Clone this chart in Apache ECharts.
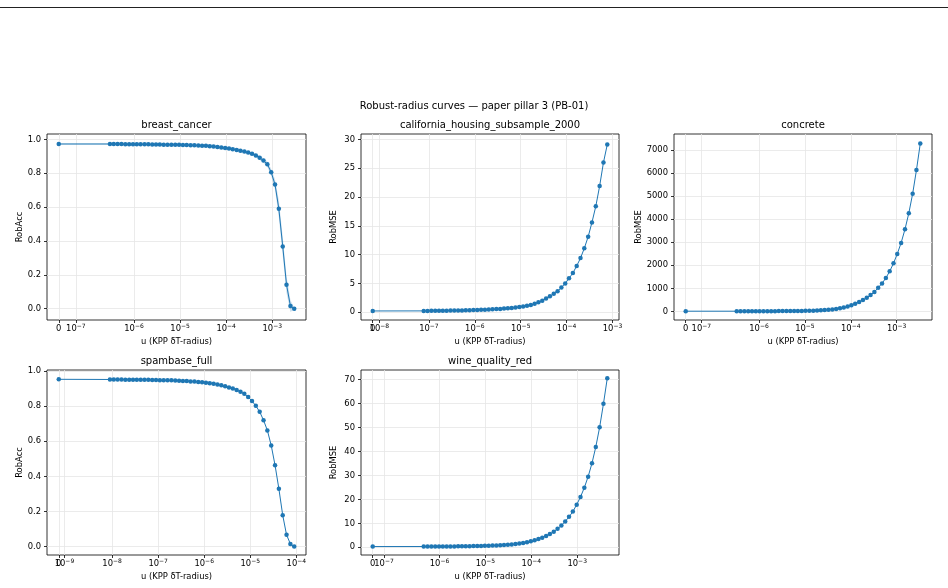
<!DOCTYPE html>
<html>
<head>
<meta charset="utf-8">
<script src="https://cdn.jsdelivr.net/npm/echarts@6/dist/echarts.min.js"></script>
<style>
  html, body { margin: 0; padding: 0; background: #fff; }
  #chart { width: 948px; height: 588px; }
</style>
</head>
<body>
<div id="chart"></div>
<script>
// datasets, one panel each
var names = ['breast_cancer', 'california_housing_subsample_2000', 'concrete', 'spambase_full', 'wine_quality_red'];
var metrics = ['RobAcc', 'RobMSE', 'RobMSE', 'RobAcc', 'RobMSE'];

// u grids (first value is u = 0)
var uBreast = [0,
  3.00e-7, 3.63e-7, 4.40e-7, 5.33e-7, 6.46e-7, 7.83e-7, 9.49e-7, 1.15e-6, 1.39e-6, 1.69e-6, 2.04e-6, 2.48e-6,
  3.00e-6, 3.63e-6, 4.40e-6, 5.33e-6, 6.46e-6, 7.83e-6, 9.49e-6, 1.15e-5, 1.39e-5, 1.69e-5, 2.04e-5, 2.48e-5,
  3.00e-5, 3.63e-5, 4.40e-5, 5.33e-5, 6.46e-5, 7.83e-5, 9.49e-5, 1.15e-4, 1.39e-4, 1.69e-4, 2.04e-4, 2.48e-4,
  3.00e-4, 3.63e-4, 4.40e-4, 5.33e-4, 6.46e-4, 7.83e-4, 9.49e-4, 1.15e-3, 1.39e-3, 1.69e-3, 2.04e-3, 2.48e-3,
  3.00e-3];
var uCalifornia = [0,
  7.70e-8, 9.33e-8, 1.13e-7, 1.37e-7, 1.66e-7, 2.01e-7, 2.43e-7, 2.95e-7, 3.57e-7, 4.33e-7, 5.25e-7, 6.36e-7,
  7.70e-7, 9.33e-7, 1.13e-6, 1.37e-6, 1.66e-6, 2.01e-6, 2.43e-6, 2.95e-6, 3.57e-6, 4.33e-6, 5.25e-6, 6.36e-6,
  7.70e-6, 9.33e-6, 1.13e-5, 1.37e-5, 1.66e-5, 2.01e-5, 2.43e-5, 2.95e-5, 3.57e-5, 4.33e-5, 5.25e-5, 6.36e-5,
  7.70e-5, 9.33e-5, 1.13e-4, 1.37e-4, 1.66e-4, 2.01e-4, 2.43e-4, 2.95e-4, 3.57e-4, 4.33e-4, 5.25e-4, 6.36e-4,
  7.70e-4];
var uConcrete = [0,
  3.27e-7, 3.96e-7, 4.80e-7, 5.82e-7, 7.04e-7, 8.54e-7, 1.03e-6, 1.25e-6, 1.52e-6, 1.84e-6, 2.23e-6, 2.70e-6,
  3.27e-6, 3.96e-6, 4.80e-6, 5.82e-6, 7.04e-6, 8.54e-6, 1.03e-5, 1.25e-5, 1.52e-5, 1.84e-5, 2.23e-5, 2.70e-5,
  3.27e-5, 3.96e-5, 4.80e-5, 5.82e-5, 7.04e-5, 8.54e-5, 1.03e-4, 1.25e-4, 1.52e-4, 1.84e-4, 2.23e-4, 2.70e-4,
  3.27e-4, 3.96e-4, 4.80e-4, 5.82e-4, 7.04e-4, 8.54e-4, 1.03e-3, 1.25e-3, 1.52e-3, 1.84e-3, 2.23e-3, 2.70e-3,
  3.27e-3];
var uSpambase = [0,
  9.00e-9, 1.09e-8, 1.32e-8, 1.60e-8, 1.94e-8, 2.35e-8, 2.85e-8, 3.45e-8, 4.18e-8, 5.06e-8, 6.13e-8, 7.43e-8,
  9.00e-8, 1.09e-7, 1.32e-7, 1.60e-7, 1.94e-7, 2.35e-7, 2.85e-7, 3.45e-7, 4.18e-7, 5.06e-7, 6.13e-7, 7.43e-7,
  9.00e-7, 1.09e-6, 1.32e-6, 1.60e-6, 1.94e-6, 2.35e-6, 2.85e-6, 3.45e-6, 4.18e-6, 5.06e-6, 6.13e-6, 7.43e-6,
  9.00e-6, 1.09e-5, 1.32e-5, 1.60e-5, 1.94e-5, 2.35e-5, 2.85e-5, 3.45e-5, 4.18e-5, 5.06e-5, 6.13e-5, 7.43e-5,
  9.00e-5];
var uWine = [0,
  4.52e-7, 5.48e-7, 6.63e-7, 8.04e-7, 9.74e-7, 1.18e-6, 1.43e-6, 1.73e-6, 2.10e-6, 2.54e-6, 3.08e-6, 3.73e-6,
  4.52e-6, 5.48e-6, 6.63e-6, 8.04e-6, 9.74e-6, 1.18e-5, 1.43e-5, 1.73e-5, 2.10e-5, 2.54e-5, 3.08e-5, 3.73e-5,
  4.52e-5, 5.48e-5, 6.63e-5, 8.04e-5, 9.74e-5, 1.18e-4, 1.43e-4, 1.73e-4, 2.10e-4, 2.54e-4, 3.08e-4, 3.73e-4,
  4.52e-4, 5.48e-4, 6.63e-4, 8.04e-4, 9.74e-4, 1.18e-3, 1.43e-3, 1.73e-3, 2.10e-3, 2.54e-3, 3.08e-3, 3.73e-3,
  4.52e-3];

// metric values, same order as the u grids
var accBreast = [0.973,
  0.973, 0.973, 0.973, 0.973, 0.972, 0.972, 0.972, 0.972, 0.971, 0.971, 0.971, 0.970,
  0.970, 0.970, 0.969, 0.969, 0.969, 0.968, 0.968, 0.967, 0.967, 0.966, 0.965, 0.964,
  0.963, 0.962, 0.960, 0.958, 0.955, 0.952, 0.949, 0.946, 0.942, 0.938, 0.933, 0.928,
  0.922, 0.915, 0.905, 0.891, 0.875, 0.853, 0.806, 0.733, 0.590, 0.368, 0.142, 0.016,
  0.000];
var stdBreast = [0.003,
  0.003, 0.003, 0.003, 0.003, 0.003, 0.003, 0.003, 0.003, 0.003, 0.003, 0.003, 0.003,
  0.003, 0.003, 0.003, 0.003, 0.003, 0.003, 0.003, 0.003, 0.003, 0.003, 0.003, 0.003,
  0.003, 0.003, 0.003, 0.003, 0.004, 0.004, 0.005, 0.005, 0.006, 0.006, 0.007, 0.007,
  0.008, 0.009, 0.010, 0.012, 0.014, 0.016, 0.020, 0.030, 0.050, 0.055, 0.050, 0.035,
  0.005];
var mseCalifornia = [0.23,
  0.24, 0.24, 0.25, 0.25, 0.26, 0.27, 0.28, 0.29, 0.30, 0.31, 0.33, 0.34,
  0.36, 0.38, 0.40, 0.42, 0.45, 0.48, 0.51, 0.55, 0.59, 0.64, 0.69, 0.75,
  0.82, 0.90, 1.00, 1.12, 1.28, 1.47, 1.72, 2.0, 2.4, 2.8, 3.2, 3.65,
  4.3, 5.0, 5.9, 6.8, 8.05, 9.4, 11.1, 13.1, 15.6, 18.4, 21.9, 26.0,
  29.1];
var mseConcrete = [11.6,
  11.7, 11.8, 11.9, 12.0, 12.2, 12.4, 12.7, 13.0, 13.3, 13.8, 14.3, 15.0,
  15.8, 16.8, 18.0, 19.5, 21.5, 24, 27, 31, 36, 42, 50, 60,
  72, 88, 108, 135, 170, 215, 270, 333, 406, 493, 594, 710,
  845, 1029, 1217, 1449, 1739, 2087, 2492, 2970, 3565, 4260, 5100, 6130,
  7274];
var accSpambase = [0.953,
  0.952, 0.952, 0.952, 0.952, 0.951, 0.951, 0.951, 0.951, 0.950, 0.950, 0.950, 0.949,
  0.949, 0.948, 0.948, 0.947, 0.947, 0.946, 0.945, 0.944, 0.943, 0.941, 0.940, 0.938,
  0.936, 0.934, 0.931, 0.928, 0.924, 0.919, 0.913, 0.907, 0.900, 0.892, 0.882, 0.870,
  0.852, 0.829, 0.802, 0.768, 0.720, 0.662, 0.576, 0.464, 0.329, 0.179, 0.067, 0.015,
  0.000];
var mseWine = [0.30,
  0.31, 0.31, 0.32, 0.32, 0.33, 0.34, 0.35, 0.36, 0.37, 0.39, 0.41, 0.43,
  0.45, 0.48, 0.51, 0.55, 0.59, 0.64, 0.70, 0.77, 0.85, 0.95, 1.05, 1.2,
  1.35, 1.55, 1.8, 2.1, 2.5, 2.9, 3.4, 4.0, 4.7, 5.5, 6.5, 7.7,
  9.1, 10.8, 12.7, 14.9, 17.8, 21.0, 24.9, 29.5, 35.1, 41.9, 50.1, 59.9,
  70.6];

var uList = [uBreast, uCalifornia, uConcrete, uSpambase, uWine];
var vList = [accBreast, mseCalifornia, mseConcrete, accSpambase, mseWine];
var bandList = [stdBreast, null, null, null, null];

// tick labels
var xTickExp = [[-7, -6, -5, -4, -3], [-8, -7, -6, -5, -4, -3], [-7, -6, -5, -4, -3], [-9, -8, -7, -6, -5, -4], [-7, -6, -5, -4, -3]];
var yTicks = [
  [0, 0.2, 0.4, 0.6, 0.8, 1.0],
  [0, 5, 10, 15, 20, 25, 30],
  [0, 1000, 2000, 3000, 4000, 5000, 6000, 7000],
  [0, 0.2, 0.4, 0.6, 0.8, 1.0],
  [0, 10, 20, 30, 40, 50, 60, 70]
];
var yDigits = [1, 0, 0, 1, 0];

// layout
var cells = [
  {left: 47, top: 134, width: 259, height: 186},
  {left: 361, top: 134, width: 258, height: 186},
  {left: 674, top: 134, width: 258, height: 186},
  {left: 47, top: 370, width: 259, height: 185},
  {left: 361, top: 370, width: 258, height: 185}
];
var yLimits = [[-0.067, 1.032], [-1.34, 30.94], [-370, 7690], [-0.048, 1.006], [-3.23, 74.03]];

var BLUE = '#1f77b4';
var FONT = 'DejaVu Sans';
var LINSCALE = 1 / (1 - 1 / 10);

// matplotlib-style symlog, linthresh = smallest positive u
function symlog(u, lt) {
  return u <= lt ? u / lt * LINSCALE : Math.log10(u / lt) + LINSCALE;
}

// "10^e" as rich text, superscript raised to the top of the line
var richX = {
  b: {fontFamily: FONT, fontSize: 8.4, color: '#000', lineHeight: 10, verticalAlign: 'bottom'},
  s: {fontFamily: FONT, fontSize: 6, color: '#000', lineHeight: 8, verticalAlign: 'top'}
};
function decLabel(e) {
  return '{b|10}{s|\u2212' + Math.abs(e) + '}';
}

var txt = {fontFamily: FONT, fontSize: 10, fontWeight: 'normal', color: '#000'};
var title = [{
  text: 'Robust-radius curves \u2014 paper pillar 3 (PB-01)',
  left: 474, top: 101, textAlign: 'center', padding: 0, textStyle: txt
}];
var grid = [], xAxis = [], xZero = [], yAxis = [], series = [];

names.forEach(function (name, i) {
  var u = uList[i], v = vList[i], lt = u[1];
  var c = cells[i];
  var dMax = symlog(u[u.length - 1], lt);
  var xMin = -0.05 * dMax, xMax = 1.05 * dMax;

  title.push({
    text: name, left: c.left + c.width / 2, top: c.top - 14, textAlign: 'center',
    padding: 0, textStyle: txt
  });
  grid.push({left: c.left, top: c.top, width: c.width, height: c.height,
    show: true, borderColor: '#000', borderWidth: 0.8});

  var tickPos = [0], tickTxt = [''];
  xTickExp[i].forEach(function (e) {
    tickPos.push(symlog(Math.pow(10, e), lt));
    tickTxt.push(decLabel(e));
  });
  var decPos = tickPos.slice(1), decTxt = tickTxt.slice(1);

  xAxis.push({
    type: 'value', gridIndex: i, position: 'bottom', min: xMin, max: xMax,
    name: 'u (KPP \u03b4T-radius)', nameLocation: 'middle', nameGap: 18,
    nameTextStyle: {fontFamily: FONT, fontSize: 8.4, color: '#000'},
    axisLine: {show: false, onZero: false},
    axisTick: {show: true, length: 3, customValues: tickPos, lineStyle: {color: '#000', width: 0.8}},
    axisLabel: {
      customValues: decPos, margin: 3, hideOverlap: false,
      rich: richX,
      formatter: function (val) {
        var best = 0;
        for (var k = 1; k < decPos.length; k++) {
          if (Math.abs(decPos[k] - val) < Math.abs(decPos[best] - val)) best = k;
        }
        return decTxt[best];
      }
    },
    splitLine: {show: true, lineStyle: {color: '#e6e6e6', width: 0.8}}
  });
  // separate axis just for the "0" label, so it is never dropped for overlapping a decade label
  xZero.push({
    type: 'value', gridIndex: i, position: 'bottom', offset: 0, min: xMin, max: xMax,
    axisLine: {show: false, onZero: false}, axisTick: {show: false}, splitLine: {show: false},
    axisLabel: {customValues: [0], margin: 3, rich: richX, formatter: function () { return '{b|0}'; }}
  });

  var yt = yTicks[i], dg = yDigits[i];
  yAxis.push({
    type: 'value', gridIndex: i, min: yLimits[i][0], max: yLimits[i][1],
    name: metrics[i], nameLocation: 'middle', nameGap: 23, nameRotate: 90,
    nameTextStyle: {fontFamily: FONT, fontSize: 8.4, color: '#000'},
    axisLine: {show: false, onZero: false},
    axisTick: {show: true, length: 3, customValues: yt, lineStyle: {color: '#000', width: 0.8}},
    axisLabel: {
      customValues: yt, margin: 6, hideOverlap: false,
      fontFamily: FONT, fontSize: 8.4, color: '#000',
      formatter: function (val) { return val.toFixed(dg); }
    },
    splitLine: {show: true, lineStyle: {color: '#e6e6e6', width: 0.8}}
  });

  var band = bandList[i];
  if (band) {
    // shaded spread: one polygon, upper edge forward then lower edge back
    series.push({
      type: 'custom', xAxisIndex: i, yAxisIndex: i, silent: true, z: 1,
      data: u.map(function (x, j) { return [symlog(x, lt), v[j] - band[j], v[j] + band[j]]; }),
      renderItem: function (params, api) {
        if (params.dataIndex !== 0) return null;
        var pts = [], n = u.length, j;
        for (j = 0; j < n; j++) pts.push(api.coord([symlog(u[j], lt), v[j] + band[j]]));
        for (j = n - 1; j >= 0; j--) pts.push(api.coord([symlog(u[j], lt), v[j] - band[j]]));
        return {type: 'polygon', shape: {points: pts}, style: {fill: 'rgba(31,119,180,0.22)'}};
      }
    });
  }

  series.push({
    type: 'line', xAxisIndex: i, yAxisIndex: i, z: 3,
    symbol: 'circle', symbolSize: 4.5,
    lineStyle: {color: BLUE, width: 1}, itemStyle: {color: BLUE},
    data: u.map(function (x, j) { return [symlog(x, lt), v[j]]; })
  });
});

var chart = echarts.init(document.getElementById('chart'), null, {renderer: 'canvas'});
chart.setOption({
  backgroundColor: '#fff',
  animation: false,
  title: title,
  grid: grid,
  xAxis: xAxis.concat(xZero),
  yAxis: yAxis,
  series: series,
  graphic: [{
    type: 'line', silent: true,
    shape: {x1: 0, y1: 7.5, x2: 948, y2: 7.5},
    style: {stroke: '#222', lineWidth: 1.2}
  }]
});
</script>
</body>
</html>
